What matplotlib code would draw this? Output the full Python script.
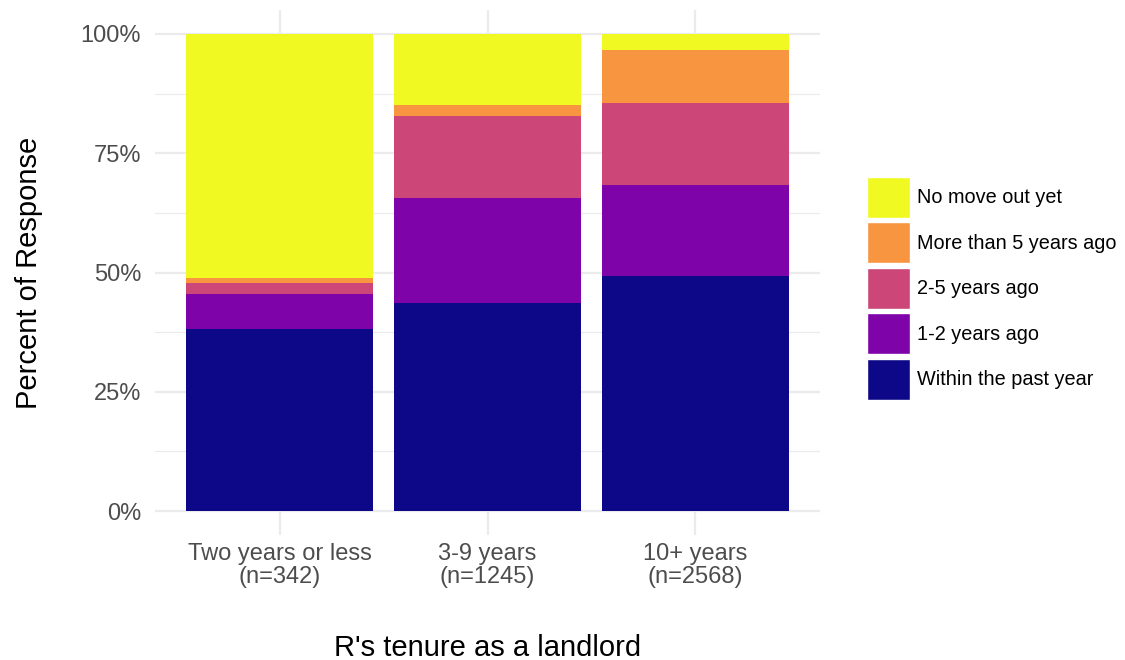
import numpy as np
import matplotlib
matplotlib.use('Agg')
import matplotlib.pyplot as plt

plt.rcParams['font.family'] = ['Liberation Sans', 'DejaVu Sans']

# tenure groups and share of responses (%) per move-out category
groups = ['Two years or less\n(n=342)', '3-9 years\n(n=1245)', '10+ years\n(n=2568)']
categories = ['Within the past year', '1-2 years ago', '2-5 years ago',
              'More than 5 years ago', 'No move out yet']
within_year = [38.2, 43.7, 49.3]
one_two = [7.4, 21.9, 19.0]
two_five = [2.3, 17.1, 17.2]
more_five = [0.9, 2.3, 11.1]
no_move = [51.2, 15.0, 3.4]
colors = ['#0D0887', '#7E03A8', '#CC4778', '#F89540', '#F0F921']

series = [within_year, one_two, two_five, more_five, no_move]

fig = plt.figure(figsize=(11.25, 6.6), dpi=100)
ax = fig.add_axes([155/1125, 1 - 535/660, 665/1125, 525/660])

x = np.arange(len(groups))
bottom = np.zeros(len(groups))
bars = []
for vals, lab, col in zip(series, categories, colors):
    v = np.array(vals)
    b = ax.bar(x, v, 0.9, bottom=bottom, color=col, label=lab, zorder=2)
    bars.append(b)
    bottom += v

ax.set_xlim(-0.6, 2.6)
ax.set_ylim(-5, 105)
ax.set_yticks([0, 25, 50, 75, 100])
ax.set_yticklabels(['0%', '25%', '50%', '75%', '100%'])
ax.set_yticks([12.5, 37.5, 62.5, 87.5], minor=True)
ax.set_xticks(x)
ax.set_xticklabels(groups, linespacing=1.05)
ax.grid(True, which='major', color='#EBEBEB', linewidth=1.6, zorder=0)
ax.grid(True, which='minor', axis='y', color='#EBEBEB', linewidth=0.8, zorder=0)
ax.tick_params(axis='both', which='both', length=0, labelsize=17, labelcolor='#4D4D4D')
ax.tick_params(axis='y', pad=10)
ax.tick_params(axis='x', pad=6)
for s in ax.spines.values():
    s.set_visible(False)

ax.set_ylabel('Percent of Response', fontsize=21, labelpad=27)
ax.set_xlabel("R's tenure as a landlord", fontsize=21, labelpad=33)

handles = [b.patches[0] for b in bars][::-1]
leg = ax.legend(handles, categories[::-1], loc='center left', bbox_to_anchor=(1.056, 0.47),
                frameon=False, fontsize=14.3, handlelength=2.15, handleheight=2.8,
                labelspacing=0.22, handletextpad=0.35, borderpad=0)
for h in leg.legend_handles:
    h.set_edgecolor('white')
    h.set_linewidth(1)

fig.savefig('out.png', dpi=100)
